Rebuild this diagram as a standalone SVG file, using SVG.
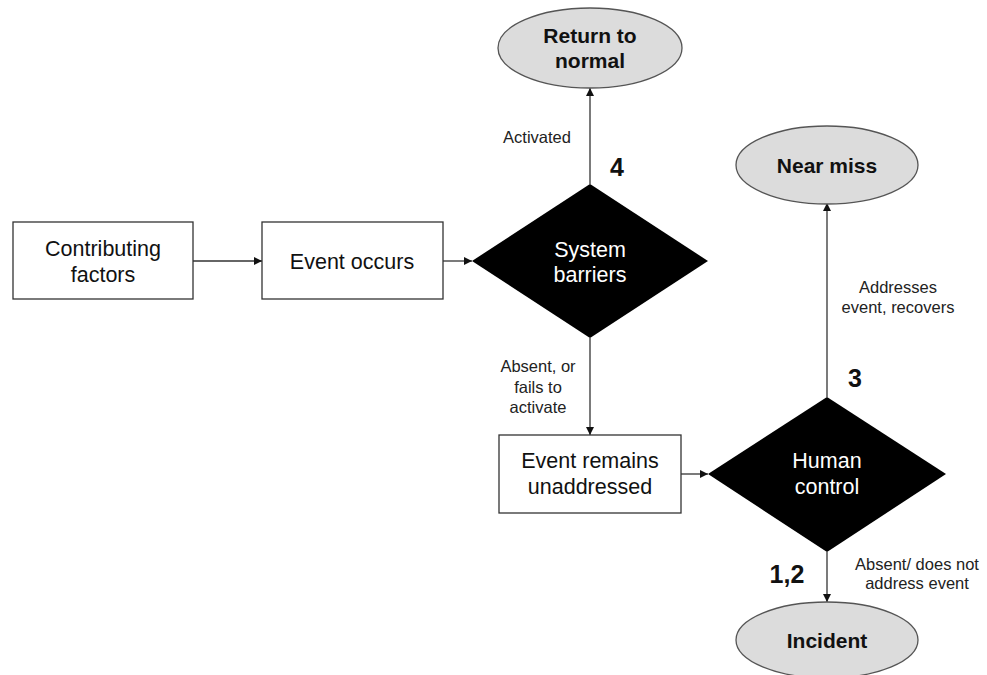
<svg xmlns="http://www.w3.org/2000/svg" width="987" height="675" viewBox="0 0 987 675">
  <defs>
    <marker id="arrow" viewBox="0 0 10 10" refX="10" refY="5" markerWidth="8" markerHeight="8" markerUnits="userSpaceOnUse" orient="auto">
      <path d="M0,0 L10,5 L0,10 z" fill="#111"/>
    </marker>
    <style>
      .box { fill: #fff; stroke: #333; stroke-width: 1.3; }
      .oval { fill: #dcdcdc; stroke: #555; stroke-width: 1.3; }
      .diamond { fill: #000; stroke: none; }
      .link { fill: none; stroke: #333; stroke-width: 1.3; marker-end: url(#arrow); }
      .t { font-family: "Liberation Sans", Arial, sans-serif; font-size: 21.5px; fill: #111; text-anchor: middle; }
      .tw { font-family: "Liberation Sans", Arial, sans-serif; font-size: 21.5px; fill: #fff; text-anchor: middle; }
      .tb { font-family: "Liberation Sans", Arial, sans-serif; font-size: 21px; font-weight: bold; fill: #111; text-anchor: middle; }
      .lbl { font-family: "Liberation Sans", Arial, sans-serif; font-size: 16.5px; fill: #222; text-anchor: middle; }
      .num { font-family: "Liberation Sans", Arial, sans-serif; font-size: 25px; font-weight: bold; fill: #111; text-anchor: middle; }
    </style>
  </defs>
  <rect width="987" height="675" fill="#fff"/>

  <!-- connectors -->
  <g id="connectors">
    <line class="link" x1="193" y1="261" x2="262" y2="261"/>
    <line class="link" x1="443" y1="261" x2="472" y2="261"/>
    <line class="link" x1="590" y1="184" x2="590" y2="88"/>
    <line class="link" x1="590" y1="338" x2="590" y2="435"/>
    <line class="link" x1="681" y1="474" x2="708" y2="474"/>
    <line class="link" x1="827" y1="397" x2="827" y2="203"/>
    <line class="link" x1="827" y1="552" x2="827" y2="602"/>
  </g>

  <!-- edge labels -->
  <g id="labels">
    <text class="lbl" x="537" y="143">Activated</text>
    <text class="num" x="617" y="176">4</text>
    <text class="lbl" x="538" y="372">Absent, or</text>
    <text class="lbl" x="538" y="393">fails to</text>
    <text class="lbl" x="538" y="413">activate</text>
    <text class="lbl" x="898" y="293">Addresses</text>
    <text class="lbl" x="898" y="313">event, recovers</text>
    <text class="num" x="855" y="387">3</text>
    <text class="lbl" x="917" y="570">Absent/ does not</text>
    <text class="lbl" x="917" y="589">address event</text>
    <text class="num" x="787" y="583">1,2</text>
  </g>

  <g id="contributing-factors">
    <rect class="box" x="13" y="222" width="180" height="77"/>
    <text class="t" x="103" y="256">Contributing</text>
    <text class="t" x="103" y="282">factors</text>
  </g>

  <g id="event-occurs">
    <rect class="box" x="262" y="222" width="181" height="77"/>
    <text class="t" x="352" y="269">Event occurs</text>
  </g>

  <g id="system-barriers">
    <polygon class="diamond" points="590,184 708,261 590,338 472,261"/>
    <text class="tw" x="590" y="257">System</text>
    <text class="tw" x="590" y="282">barriers</text>
  </g>

  <g id="return-to-normal">
    <ellipse class="oval" cx="590" cy="48" rx="92" ry="40"/>
    <text class="tb" x="590" y="43">Return to</text>
    <text class="tb" x="590" y="68">normal</text>
  </g>

  <g id="event-unaddressed">
    <rect class="box" x="499" y="435" width="182" height="78"/>
    <text class="t" x="590" y="468">Event remains</text>
    <text class="t" x="590" y="494">unaddressed</text>
  </g>

  <g id="human-control">
    <polygon class="diamond" points="827,397 946,474 827,552 708,474"/>
    <text class="tw" x="827" y="468">Human</text>
    <text class="tw" x="827" y="494">control</text>
  </g>

  <g id="near-miss">
    <ellipse class="oval" cx="827" cy="165" rx="91" ry="39"/>
    <text class="tb" x="827" y="173">Near miss</text>
  </g>

  <g id="incident">
    <ellipse class="oval" cx="827" cy="640" rx="91" ry="38"/>
    <text class="tb" x="827" y="648">Incident</text>
  </g>
</svg>
